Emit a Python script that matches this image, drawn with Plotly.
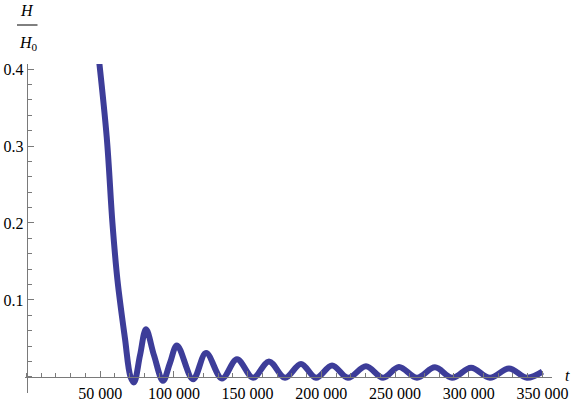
import plotly.graph_objects as go

# curve (t, H/H0)
t_vals = [47800, 54400, 58300, 61700, 66800, 70600,
          72900, 77000, 81070, 86500, 92600, 97300, 102100, 113000, 121800,
          132600, 142800, 153700, 164500, 175400, 186200, 196400, 207300,
          218100, 230300, 241900, 252700, 264900, 277100, 288700, 301600,
          314400, 327300, 339500, 350000]
h_vals = [0.436, 0.312, 0.200, 0.126, 0.050, 0.000,
          -0.007, 0.028, 0.062, 0.028, -0.005, 0.018, 0.041, -0.003, 0.031,
          -0.002, 0.023, -0.001, 0.020, -0.001, 0.017, -0.001, 0.015,
          -0.001, 0.014, -0.001, 0.013, -0.001, 0.0125, -0.001, 0.012,
          -0.001, 0.011, -0.001, 0.007]

x_ticks = [50000, 100000, 150000, 200000, 250000, 300000, 350000]
x_labels = ["50 000", "100 000", "150 000", "200 000", "250 000", "300 000", "350 000"]
y_ticks = [0.1, 0.2, 0.3, 0.4]
y_labels = ["0.1", "0.2", "0.3", "0.4"]

W, H = 573, 402
AXIS = "#7a7a7a"
SERIF = "Liberation Serif, Times New Roman, DejaVu Serif, serif"
FONT = dict(family=SERIF, size=16, color="black")

fig = go.Figure()
fig.add_trace(go.Scatter(
    x=t_vals, y=h_vals, mode="lines",
    line=dict(color="#3d3d99", width=6, shape="spline", smoothing=1.0),
    showlegend=False, hoverinfo="skip",
))

fig.update_layout(
    width=W, height=H,
    margin=dict(l=0, r=0, t=0, b=0, autoexpand=False),
    paper_bgcolor="white", plot_bgcolor="white",
    font=FONT,
    xaxis=dict(
        domain=[25 / W, 552 / W], range=[-1018, 356500],
        anchor="free", position=(H - 377) / H,
        showline=True, linecolor=AXIS, linewidth=1,
        ticks="inside", ticklen=6, tickcolor=AXIS, tickwidth=1,
        tickvals=x_ticks, ticktext=x_labels, tickfont=FONT,
        ticklabelstandoff=2,
        minor=dict(ticks="inside", ticklen=4, tickcolor=AXIS, dtick=10000, tick0=0),
        showgrid=False, zeroline=False,
    ),
    yaxis=dict(
        domain=[(H - 393) / H, (H - 64) / H], range=[-0.0208, 0.4065],
        anchor="free", position=26.7 / W,
        showline=True, linecolor=AXIS, linewidth=1,
        ticks="inside", ticklen=6, tickcolor=AXIS, tickwidth=1,
        tickvals=y_ticks, ticktext=y_labels, tickfont=FONT,
        minor=dict(ticks="inside", ticklen=4, tickcolor=AXIS, dtick=0.02, tick0=0),
        showgrid=False, zeroline=False,
    ),
)

# axis labels
lab = dict(family=SERIF, size=16, color="black")
ann = dict(xref="paper", yref="paper", showarrow=False, font=lab,
           xanchor="center", yanchor="middle")
fig.add_annotation(x=567 / W, y=(H - 375) / H, text="<i>t</i>", **ann)
fig.add_annotation(x=27 / W, y=(H - 10) / H, text="<i>H</i>", **ann)
fig.add_annotation(x=28 / W, y=(H - 43) / H, text="<i>H</i><sub>0</sub>", **ann)
fig.add_shape(type="line", xref="paper", yref="paper",
              x0=17 / W, x1=37.5 / W, y0=(H - 25) / H, y1=(H - 25) / H,
              line=dict(color="black", width=1))

fig.write_html("out.html", config={"displayModeBar": False},
               post_script="document.body.style.margin='0px';")
